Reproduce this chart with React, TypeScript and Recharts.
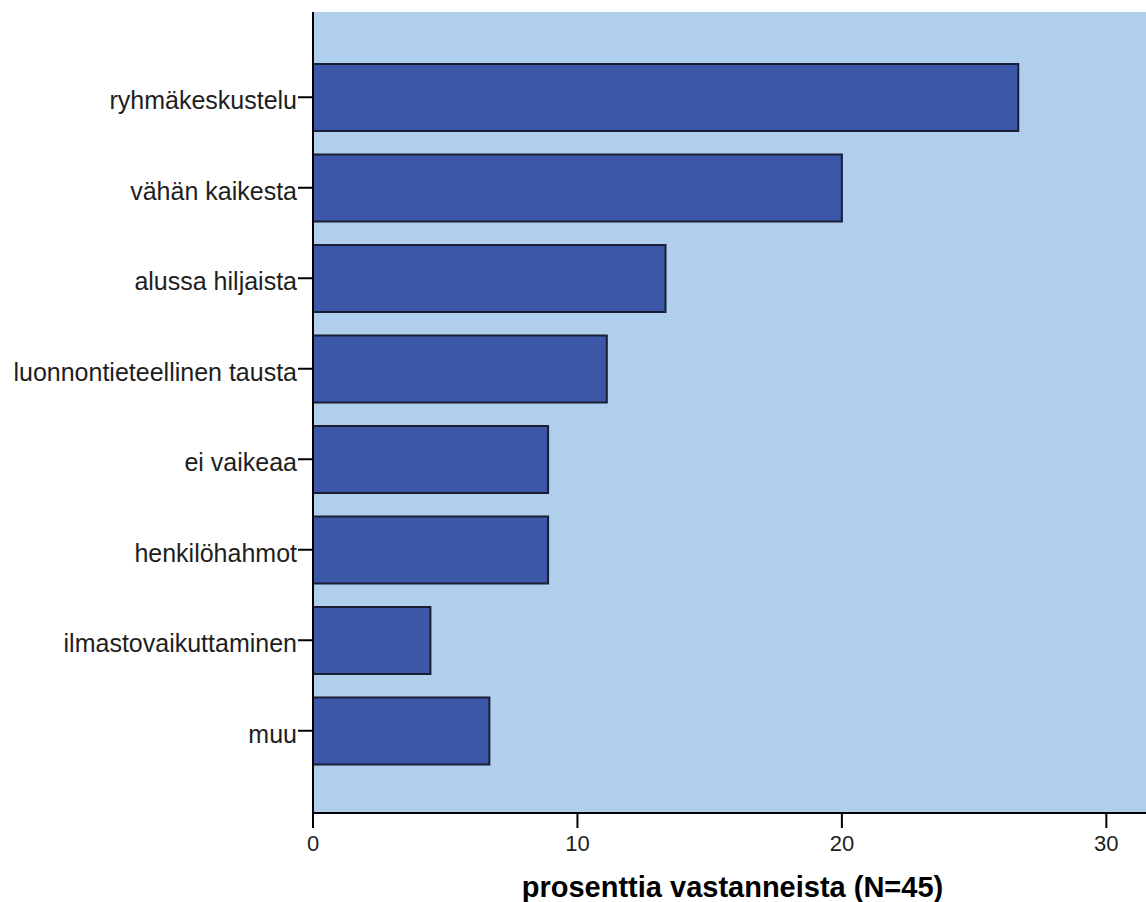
import React from 'react';
import { BarChart, Bar, XAxis, YAxis, CartesianGrid } from 'recharts';

const categories = [
  'ryhmäkeskustelu',
  'vähän kaikesta',
  'alussa hiljaista',
  'luonnontieteellinen tausta',
  'ei vaikeaa',
  'henkilöhahmot',
  'ilmastovaikuttaminen',
  'muu',
];
const percents = [26.67, 20.0, 13.33, 11.11, 8.89, 8.89, 4.44, 6.67];
const xTicks = [0, 10, 20, 30];
const xTitle = 'prosenttia vastanneista (N=45)';

const data = categories.map((c, i) => ({ name: c, value: percents[i] }));

const FONT = '"Liberation Sans", Arial, sans-serif';

const YTick = (props: any) => {
  const { x, y, payload } = props;
  return (
    <text x={x} y={y} dy={12} textAnchor="end" fill="#1e1e1e" fontSize={25} fontFamily={FONT}>
      {payload.value}
    </text>
  );
};

const XTick = (props: any) => {
  const { x, y, payload } = props;
  return (
    <text x={x} y={y} dy={22.5} textAnchor="middle" fill="#1e1e1e" fontSize={22} fontFamily={FONT}>
      {payload.value}
    </text>
  );
};

const XLabel = (props: any) => {
  const vb = props.viewBox || {};
  return (
    <text
      x={vb.x + vb.width / 2 + 3}
      y={897}
      textAnchor="middle"
      fill="#000"
      fontSize={29}
      fontWeight="bold"
      fontFamily={FONT}
    >
      {xTitle}
    </text>
  );
};

export default function App() {
  return (
    <div style={{ position: 'absolute', left: 0, top: 0, width: 1146, height: 902, background: '#fff', overflow: 'hidden' }}>
      <BarChart
        width={1146}
        height={902}
        data={data}
        layout="vertical"
        margin={{ top: 12, right: 0, bottom: 0, left: 0 }}
      >
        <CartesianGrid fill="#AFCFEC" stroke="none" horizontal={false} vertical={false} />
        <XAxis
          type="number"
          domain={[0, 31.5]}
          allowDataOverflow
          ticks={xTicks}
          height={89}
          tickSize={15}
          tickMargin={0}
          tick={<XTick />}
          axisLine={{ stroke: '#000', strokeWidth: 2 }}
          tickLine={{ stroke: '#000', strokeWidth: 2 }}
          label={<XLabel />}
        />
        <XAxis
          xAxisId="top"
          orientation="top"
          type="number"
          domain={[0, 31.5]}
          height={0}
          tick={false}
          tickLine={false}
          axisLine={{ stroke: '#777', strokeWidth: 2 }}
        />
        <YAxis
          type="category"
          dataKey="name"
          width={313}
          padding={{ top: 40, bottom: 37 }}
          tickSize={15}
          tickMargin={1}
          tick={<YTick />}
          interval={0}
          axisLine={{ stroke: '#000', strokeWidth: 2 }}
          tickLine={{ stroke: '#000', strokeWidth: 2 }}
        />
        <Bar
          dataKey="value"
          barSize={67}
          fill="#3C56A8"
          stroke="#1b1f33"
          strokeWidth={2}
          isAnimationActive={false}
        />
      </BarChart>
    </div>
  );
}
